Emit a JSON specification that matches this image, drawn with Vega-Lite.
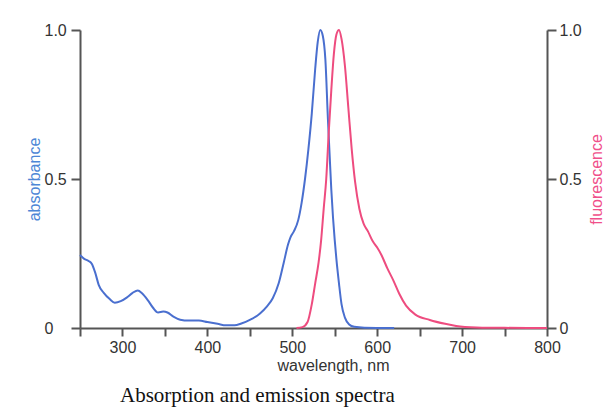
{
  "$schema": "https://vega.github.io/schema/vega-lite/v6.json",
  "width": 467,
  "height": 298,
  "autosize": {"type": "none"},
  "padding": {"left": 80, "top": 30, "right": 67, "bottom": 80},
  "background": "white",
  "config": {
    "view": {"stroke": null},
    "axis": {
      "grid": false,
      "domainColor": "#555555",
      "domainWidth": 2,
      "tickColor": "#555555",
      "tickWidth": 2,
      "tickSize": 9,
      "labelFont": "Liberation Sans",
      "labelFontSize": 16,
      "labelColor": "#333333",
      "titleFont": "Liberation Sans",
      "titleFontSize": 16,
      "titleFontWeight": "normal",
      "titleColor": "#333333"
    }
  },
  "title": {
    "text": "Absorption and emission spectra",
    "orient": "bottom",
    "anchor": "start",
    "frame": "group",
    "dx": 40,
    "offset": 12,
    "font": "Liberation Serif",
    "fontSize": 21,
    "fontWeight": "normal",
    "color": "#111111"
  },
  "data": {
    "values": [
      {"wl": 250, "v": 0.245, "s": "absorbance"},
      {"wl": 255, "v": 0.232, "s": "absorbance"},
      {"wl": 260, "v": 0.225, "s": "absorbance"},
      {"wl": 264, "v": 0.215, "s": "absorbance"},
      {"wl": 268, "v": 0.185, "s": "absorbance"},
      {"wl": 272, "v": 0.145, "s": "absorbance"},
      {"wl": 278, "v": 0.118, "s": "absorbance"},
      {"wl": 285, "v": 0.097, "s": "absorbance"},
      {"wl": 291, "v": 0.085, "s": "absorbance"},
      {"wl": 298, "v": 0.09, "s": "absorbance"},
      {"wl": 305, "v": 0.102, "s": "absorbance"},
      {"wl": 312, "v": 0.118, "s": "absorbance"},
      {"wl": 318, "v": 0.126, "s": "absorbance"},
      {"wl": 323, "v": 0.117, "s": "absorbance"},
      {"wl": 330, "v": 0.093, "s": "absorbance"},
      {"wl": 336, "v": 0.068, "s": "absorbance"},
      {"wl": 342, "v": 0.052, "s": "absorbance"},
      {"wl": 348, "v": 0.055, "s": "absorbance"},
      {"wl": 353, "v": 0.052, "s": "absorbance"},
      {"wl": 360, "v": 0.038, "s": "absorbance"},
      {"wl": 368, "v": 0.028, "s": "absorbance"},
      {"wl": 378, "v": 0.025, "s": "absorbance"},
      {"wl": 390, "v": 0.025, "s": "absorbance"},
      {"wl": 400, "v": 0.02, "s": "absorbance"},
      {"wl": 412, "v": 0.014, "s": "absorbance"},
      {"wl": 422, "v": 0.009, "s": "absorbance"},
      {"wl": 432, "v": 0.009, "s": "absorbance"},
      {"wl": 440, "v": 0.015, "s": "absorbance"},
      {"wl": 450, "v": 0.027, "s": "absorbance"},
      {"wl": 462, "v": 0.049, "s": "absorbance"},
      {"wl": 470, "v": 0.072, "s": "absorbance"},
      {"wl": 477, "v": 0.1, "s": "absorbance"},
      {"wl": 484, "v": 0.15, "s": "absorbance"},
      {"wl": 490, "v": 0.22, "s": "absorbance"},
      {"wl": 495, "v": 0.28, "s": "absorbance"},
      {"wl": 498, "v": 0.305, "s": "absorbance"},
      {"wl": 502, "v": 0.325, "s": "absorbance"},
      {"wl": 507, "v": 0.362, "s": "absorbance"},
      {"wl": 511, "v": 0.42, "s": "absorbance"},
      {"wl": 515, "v": 0.5, "s": "absorbance"},
      {"wl": 519, "v": 0.6, "s": "absorbance"},
      {"wl": 523, "v": 0.72, "s": "absorbance"},
      {"wl": 527, "v": 0.87, "s": "absorbance"},
      {"wl": 530, "v": 0.96, "s": "absorbance"},
      {"wl": 533, "v": 1.0, "s": "absorbance"},
      {"wl": 536, "v": 0.98, "s": "absorbance"},
      {"wl": 539, "v": 0.9, "s": "absorbance"},
      {"wl": 542, "v": 0.7, "s": "absorbance"},
      {"wl": 544, "v": 0.58, "s": "absorbance"},
      {"wl": 546, "v": 0.463, "s": "absorbance"},
      {"wl": 548, "v": 0.37, "s": "absorbance"},
      {"wl": 550, "v": 0.295, "s": "absorbance"},
      {"wl": 552, "v": 0.23, "s": "absorbance"},
      {"wl": 555, "v": 0.15, "s": "absorbance"},
      {"wl": 558, "v": 0.08, "s": "absorbance"},
      {"wl": 562, "v": 0.035, "s": "absorbance"},
      {"wl": 567, "v": 0.012, "s": "absorbance"},
      {"wl": 573, "v": 0.004, "s": "absorbance"},
      {"wl": 585, "v": 0.001, "s": "absorbance"},
      {"wl": 620, "v": 0.0, "s": "absorbance"},
      {"wl": 505, "v": 0.0, "s": "fluorescence"},
      {"wl": 512, "v": 0.003, "s": "fluorescence"},
      {"wl": 518, "v": 0.02, "s": "fluorescence"},
      {"wl": 523, "v": 0.08, "s": "fluorescence"},
      {"wl": 527, "v": 0.15, "s": "fluorescence"},
      {"wl": 531, "v": 0.22, "s": "fluorescence"},
      {"wl": 534, "v": 0.295, "s": "fluorescence"},
      {"wl": 537, "v": 0.4, "s": "fluorescence"},
      {"wl": 540, "v": 0.5, "s": "fluorescence"},
      {"wl": 543, "v": 0.66, "s": "fluorescence"},
      {"wl": 546, "v": 0.8, "s": "fluorescence"},
      {"wl": 549, "v": 0.92, "s": "fluorescence"},
      {"wl": 552, "v": 0.985, "s": "fluorescence"},
      {"wl": 555, "v": 1.0, "s": "fluorescence"},
      {"wl": 558, "v": 0.97, "s": "fluorescence"},
      {"wl": 562, "v": 0.88, "s": "fluorescence"},
      {"wl": 566, "v": 0.74, "s": "fluorescence"},
      {"wl": 570, "v": 0.6, "s": "fluorescence"},
      {"wl": 574, "v": 0.49, "s": "fluorescence"},
      {"wl": 579, "v": 0.4, "s": "fluorescence"},
      {"wl": 584, "v": 0.35, "s": "fluorescence"},
      {"wl": 589, "v": 0.325, "s": "fluorescence"},
      {"wl": 595, "v": 0.29, "s": "fluorescence"},
      {"wl": 600, "v": 0.27, "s": "fluorescence"},
      {"wl": 605, "v": 0.245, "s": "fluorescence"},
      {"wl": 612, "v": 0.2, "s": "fluorescence"},
      {"wl": 619, "v": 0.16, "s": "fluorescence"},
      {"wl": 626, "v": 0.115, "s": "fluorescence"},
      {"wl": 634, "v": 0.075, "s": "fluorescence"},
      {"wl": 645, "v": 0.045, "s": "fluorescence"},
      {"wl": 662, "v": 0.027, "s": "fluorescence"},
      {"wl": 680, "v": 0.014, "s": "fluorescence"},
      {"wl": 693, "v": 0.007, "s": "fluorescence"},
      {"wl": 717, "v": 0.002, "s": "fluorescence"},
      {"wl": 750, "v": 0.0005, "s": "fluorescence"},
      {"wl": 800, "v": 0.0, "s": "fluorescence"}
    ]
  },
  "encoding": {
    "x": {
      "field": "wl",
      "type": "quantitative",
      "scale": {"domain": [250, 800], "nice": false, "zero": false},
      "axis": {
        "values": [250, 300, 350, 400, 450, 500, 550, 600, 650, 700, 750, 800],
        "labelExpr": "datum.value % 100 == 0 ? datum.label : ''",
        "tickSize": 8,
        "labelPadding": 3,
        "labelFlush": false,
        "labelOverlap": false,
        "title": "wavelength, nm",
        "titleX": 253,
        "titlePadding": 2
      }
    }
  },
  "layer": [
    {
      "transform": [{"filter": "datum.s == 'absorbance'"}],
      "mark": {"type": "line", "color": "#4a6fcf", "strokeWidth": 2, "interpolate": "monotone"},
      "encoding": {
        "y": {
          "field": "v",
          "type": "quantitative",
          "scale": {"domain": [0, 1], "nice": false},
          "axis": {
            "orient": "left",
            "values": [0, 0.5, 1],
            "labelExpr": "datum.value == 0 ? '0' : format(datum.value, '.1f')",
            "labelAlign": "left",
            "labelPadding": 27,
            "title": "absorbance",
            "titleColor": "#4d86d6",
            "titlePadding": 2
          }
        }
      }
    },
    {
      "transform": [{"filter": "datum.s == 'fluorescence'"}],
      "mark": {"type": "line", "color": "#ee4c7f", "strokeWidth": 2, "interpolate": "monotone"},
      "encoding": {
        "y": {
          "field": "v",
          "type": "quantitative",
          "scale": {"domain": [0, 1], "nice": false},
          "axis": {
            "orient": "right",
            "values": [0, 0.5, 1],
            "labelExpr": "datum.value == 0 ? '0' : format(datum.value, '.1f')",
            "labelPadding": 3,
            "title": "fluorescence",
            "titleColor": "#f0508a",
            "titleAngle": 270,
            "titlePadding": 23
          }
        }
      }
    }
  ],
  "resolve": {"scale": {"y": "independent"}}
}
